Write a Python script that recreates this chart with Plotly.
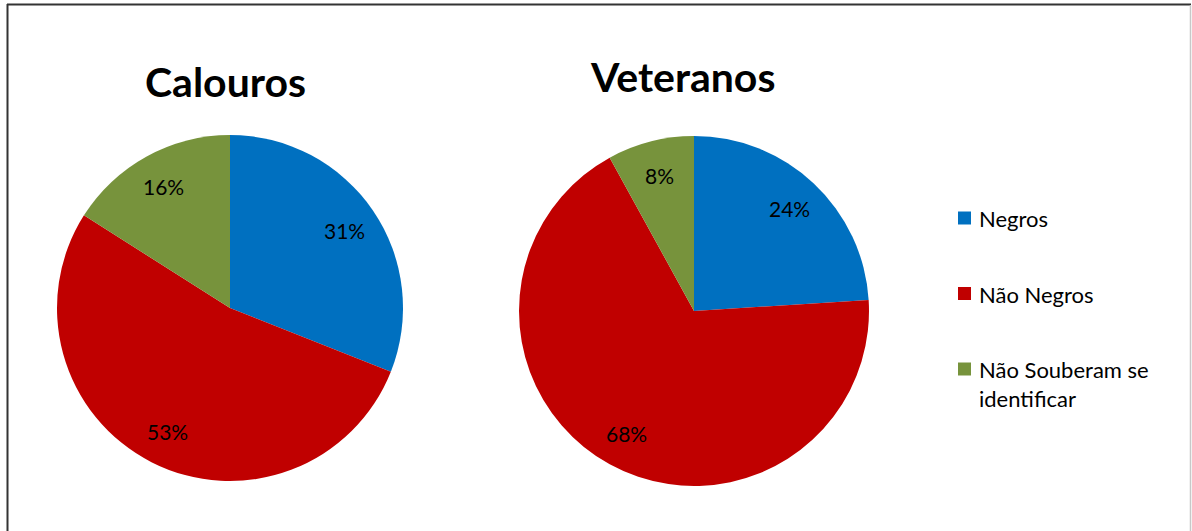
import math
import plotly.graph_objects as go

# Data
categories = ["Negros", "Não Negros", "Não Souberam se identificar"]
legend_labels = ["Negros", "Não Negros", "Não Souberam se<br>identificar"]
calouros = [31, 53, 16]
veteranos = [24, 68, 8]
titles = ["Calouros", "Veteranos"]
colors = ["#0070C0", "#C00000", "#77933C"]

W, H = 1192, 531

def px_x(x):
    return x / W

def px_y(y):
    return 1 - y / H

# pie geometry in pixels: (center x, center y, radius), title position
pies = [
    (calouros, (230, 308, 173), (225, 81)),
    (veteranos, (694, 311, 175), (682, 77)),
]

fig = go.Figure()
annotations = []

for (values, (cx, cy, r), (tx, ty)), title in zip(pies, titles):
    fig.add_trace(go.Pie(
        labels=categories,
        values=values,
        sort=False,
        direction="clockwise",
        rotation=0,
        marker=dict(colors=colors, line=dict(width=0)),
        textinfo="none",
        hoverinfo="label+percent",
        showlegend=False,
        domain=dict(x=[px_x(cx - r), px_x(cx + r)],
                    y=[px_y(cy + r), px_y(cy - r)]),
    ))
    # percentage labels along each slice's mid-angle
    total = sum(values)
    start = 0.0
    for v in values:
        mid = (start + v / 2) / total * 2 * math.pi
        start += v
        lx = cx + 0.8 * r * math.sin(mid)
        ly = cy - 0.8 * r * math.cos(mid)
        annotations.append(dict(
            x=px_x(lx), y=px_y(ly), xref="paper", yref="paper",
            text=f"{v}%", showarrow=False,
            xanchor="center", yanchor="middle",
            font=dict(family="Lato", size=21, color="#000000"),
        ))
    annotations.append(dict(
        x=px_x(tx), y=px_y(ty), xref="paper", yref="paper",
        text=f"<b>{title}</b>", showarrow=False,
        xanchor="center", yanchor="middle",
        font=dict(family="Lato", size=41, color="#000000"),
    ))

# legend: colour squares with labels
shapes = []
leg_x, leg_y0, leg_step, sq = 958, 218, 75.5, 13
for i, (lab, col) in enumerate(zip(legend_labels, colors)):
    yc = leg_y0 + i * leg_step
    shapes.append(dict(
        type="rect", xref="paper", yref="paper",
        x0=px_x(leg_x), x1=px_x(leg_x + sq),
        y0=px_y(yc + sq / 2), y1=px_y(yc - sq / 2),
        fillcolor=col, line=dict(width=0),
    ))
    annotations.append(dict(
        x=px_x(leg_x + sq + 6), y=px_y(yc - 15), xref="paper", yref="paper",
        text=lab, showarrow=False, align="left",
        xanchor="left", yanchor="top",
        font=dict(family="Lato", size=22, color="#000000"),
    ))

# chart frame
shapes += [
    dict(type="line", xref="paper", yref="paper",
         x0=px_x(7), x1=px_x(1191), y0=px_y(4.5), y1=px_y(4.5),
         line=dict(color="#333333", width=2)),
    dict(type="line", xref="paper", yref="paper",
         x0=px_x(7.5), x1=px_x(7.5), y0=px_y(4), y1=0,
         line=dict(color="#333333", width=2)),
    dict(type="line", xref="paper", yref="paper",
         x0=px_x(1190.5), x1=px_x(1190.5), y0=px_y(5), y1=0,
         line=dict(color="#c8c8c8", width=1.5)),
]

fig.update_layout(
    width=W, height=H,
    margin=dict(l=0, r=0, t=0, b=0),
    paper_bgcolor="#ffffff",
    plot_bgcolor="#ffffff",
    annotations=annotations,
    shapes=shapes,
    showlegend=False,
)

fig.write_html("out.html")
